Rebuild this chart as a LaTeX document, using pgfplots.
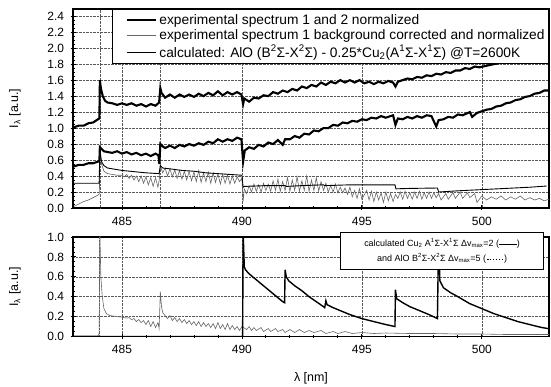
\documentclass[border=0pt]{standalone}
\usepackage{pgfplots}
\pgfplotsset{compat=1.18}
\usepackage{fontspec}
\setmainfont{Liberation Sans}
\newcommand{\dashsample}{\makebox[2em]{\leaders\hbox to 0.33em{\hss\rule[0.3ex]{0.2em}{0.45pt}\hss}\hfill}}
\begin{document}
\begin{tikzpicture}
\useasboundingbox (0bp,0bp) rectangle (551bp,387bp);
\pgfplotsset{
  common/.style={
    scale only axis, width=476bp,
    xmin=482.96, xmax=502.8,
    xtick={485,490,495,500},
    minor x tick num=4,
    minor y tick num=3,
    tick align=center,
    major tick length=5bp, minor tick length=3bp,
    xtick pos=bottom, ytick pos=left,
    grid=major,
    major grid style={densely dotted, black!65, line width=0.5bp},
    axis line style={line width=1.1bp},
    every tick/.style={black, line width=0.8bp},
    /pgf/number format/assume math mode=true,
    ticklabel style={font=\fontsize{12}{14}\selectfont},
    yticklabel style={/pgf/number format/fixed, /pgf/number format/fixed zerofill, /pgf/number format/precision=1, xshift=-3bp},
    xticklabel style={yshift=-3bp},
    every axis y label/.style={at={(axis description cs:0,0.5)}, xshift=-58bp, rotate=90, anchor=center, font=\fontsize{12.5}{14}\selectfont},
    extra x tick labels={},
    extra x tick style={major tick length=0pt, grid=major},
  }
}
% ---------------- top panel ----------------
\begin{axis}[common, name=top,
  at={(73bp,179bp)}, anchor=south west, height=199bp,
  ymin=0, ymax=2.49,
  ytick={0,0.2,...,2.4},
  extra x ticks={484.1,486.6},
  ylabel={I\textsubscript{λ} [a.u.]},
  legend style={at={(1,1)}, anchor=north east, draw=black, line width=0.8bp, fill=white,
    font=\fontsize{13.8}{15}\selectfont, row sep=0pt, inner xsep=2bp, inner ysep=3bp,
    cells={anchor=west}},
  legend cell align=left,
  legend image code/.code={\path (0bp,0bp); \draw[#1] (12bp,0bp) -- (41bp,0bp);},
]
\addplot[black, line width=2.1bp] coordinates {
(483.0,1.01) (483.2,1.03) (483.4,1.03) (483.6,1.06) (483.8,1.07) (484.0,1.11) (484.06,1.12) (484.08,1.60)
(484.12,1.50) (484.2,1.40) (484.3,1.34) (484.4,1.32) (484.6,1.31) (484.8,1.29) (485.0,1.31) (485.2,1.29)
(485.4,1.31) (485.6,1.28) (485.8,1.30) (486.0,1.27) (486.2,1.30) (486.4,1.28) (486.55,1.32) (486.6,1.50)
(486.65,1.44) (486.8,1.38) (487.0,1.42) (487.2,1.38) (487.4,1.42) (487.6,1.39) (487.8,1.42) (488.0,1.39)
(488.2,1.43) (488.4,1.40) (488.6,1.44) (488.8,1.41) (489.0,1.46) (489.2,1.41) (489.4,1.45) (489.6,1.42)
(489.8,1.45) (489.98,1.42) (490.05,1.30) (490.1,1.37) (490.3,1.33) (490.5,1.38) (490.7,1.37) (490.9,1.41)
(491.1,1.40) (491.3,1.45) (491.5,1.43) (491.7,1.47) (491.9,1.45) (492.1,1.49) (492.3,1.47) (492.5,1.52)
(492.7,1.50) (492.9,1.54) (493.1,1.52) (493.3,1.57) (493.5,1.54) (493.7,1.58) (493.9,1.56) (494.1,1.60)
(494.3,1.57) (494.5,1.60) (494.7,1.57) (494.9,1.60) (495.1,1.56) (495.3,1.58) (495.5,1.55) (495.7,1.58)
(495.9,1.56) (496.1,1.59) (496.3,1.57) (496.4,1.52) (496.5,1.58) (496.7,1.60) (496.9,1.62) (497.1,1.61)
(497.3,1.64) (497.5,1.63) (497.7,1.66) (497.9,1.65) (498.1,1.68) (498.3,1.67) (498.5,1.70) (498.7,1.69)
(498.9,1.72) (499.1,1.72) (499.3,1.75) (499.5,1.74) (499.7,1.77) (499.9,1.76) (500.5,1.80) (501.5,1.86)
(503.0,1.95)};
\addlegendentry{experimental spectrum 1 and 2 normalized}
\addplot[black, line width=2.1bp, forget plot] coordinates {
(483.0,0.52) (483.2,0.54) (483.4,0.54) (483.6,0.56) (483.8,0.56) (484.0,0.58) (484.06,0.59) (484.08,0.76)
(484.15,0.74) (484.25,0.71) (484.4,0.70) (484.6,0.69) (484.8,0.71) (485.0,0.68) (485.2,0.70) (485.4,0.67)
(485.6,0.69) (485.8,0.66) (486.0,0.68) (486.2,0.65) (486.4,0.68) (486.52,0.66) (486.56,0.55) (486.6,0.80)
(486.7,0.77) (486.8,0.75) (487.0,0.78) (487.2,0.75) (487.4,0.79) (487.6,0.77) (487.8,0.80) (488.0,0.78)
(488.2,0.81) (488.4,0.79) (488.6,0.83) (488.8,0.81) (489.0,0.86) (489.2,0.83) (489.4,0.86) (489.6,0.84)
(489.8,0.88) (489.98,0.86) (490.05,0.58) (490.12,0.72) (490.3,0.76) (490.5,0.74) (490.7,0.79) (490.9,0.77)
(491.1,0.82) (491.3,0.80) (491.5,0.85) (491.7,0.79) (491.8,0.86) (492.0,0.86) (492.2,0.90) (492.4,0.88)
(492.6,0.93) (492.8,0.92) (493.0,0.97) (493.2,0.96) (493.4,1.00) (493.6,1.00) (493.8,1.04) (494.0,1.03)
(494.2,1.07) (494.4,1.06) (494.6,1.09) (494.8,1.08) (495.0,1.11) (495.2,1.10) (495.4,1.13) (495.6,1.12)
(495.8,1.15) (496.0,1.13) (496.3,1.16) (496.4,1.04) (496.5,1.12) (496.7,1.11) (496.9,1.14) (497.1,1.12)
(497.3,1.15) (497.5,1.13) (497.7,1.16) (497.9,1.15) (498.1,1.02) (498.2,1.10) (498.4,1.11) (498.6,1.14)
(498.8,1.13) (499.0,1.17) (499.2,1.16) (499.5,1.20) (499.6,1.14) (499.8,1.19) (500.0,1.21) (500.2,1.23)
(500.4,1.24) (500.6,1.27) (500.8,1.28) (501.0,1.31) (501.2,1.32) (501.4,1.35) (501.6,1.36) (501.8,1.39)
(502.0,1.40) (502.2,1.43) (502.4,1.44) (502.6,1.47) (502.8,1.47) (503.0,1.49)};
\addplot[black!60, line width=0.6bp] coordinates {
(483.0,0.02) (483.2,0.05) (483.4,0.08) (483.6,0.10) (483.8,0.13) (484.0,0.16) (484.06,0.18) (484.08,0.70)
(484.15,0.55) (484.25,0.46) (484.4,0.43) (484.6,0.42) (484.8,0.41) (485.0,0.41) (485.1,0.39) (485.2,0.42)
(485.3,0.37) (485.4,0.41) (485.5,0.35) (485.6,0.40) (485.7,0.33) (485.8,0.40) (485.9,0.31) (486.0,0.39)
(486.1,0.29) (486.2,0.38) (486.3,0.27) (486.4,0.38) (486.5,0.26) (486.56,0.36) (486.6,0.53) (486.7,0.44)
(486.8,0.50) (486.9,0.40) (487.0,0.49) (487.1,0.39) (487.2,0.48) (487.3,0.37) (487.4,0.47) (487.5,0.36)
(487.6,0.46) (487.7,0.35) (487.8,0.46) (487.9,0.34) (488.0,0.45) (488.1,0.33) (488.2,0.47) (488.3,0.32)
(488.4,0.44) (488.5,0.33) (488.6,0.45) (488.7,0.31) (488.8,0.44) (488.9,0.32) (489.0,0.43) (489.1,0.30)
(489.2,0.42) (489.3,0.31) (489.4,0.41) (489.5,0.30) (489.6,0.40) (489.7,0.31) (489.8,0.39) (489.9,0.33)
(490.0,0.37) (490.05,0.08) (490.1,0.24) (490.2,0.18) (490.3,0.28) (490.4,0.20) (490.5,0.30) (490.6,0.21)
(490.7,0.29) (490.8,0.20) (490.9,0.31) (491.0,0.22) (491.1,0.30) (491.2,0.21) (491.3,0.34) (491.4,0.22)
(491.5,0.36) (491.6,0.21) (491.7,0.33) (491.8,0.22) (491.9,0.38) (492.0,0.21) (492.1,0.35) (492.2,0.22)
(492.3,0.39) (492.4,0.21) (492.5,0.34) (492.6,0.22) (492.7,0.40) (492.8,0.21) (492.9,0.35) (493.0,0.22)
(493.1,0.38) (493.2,0.21) (493.3,0.33) (493.4,0.22) (493.5,0.31) (493.6,0.20) (493.7,0.28) (493.8,0.20)
(493.9,0.30) (494.0,0.19) (494.1,0.26) (494.2,0.19) (494.3,0.25) (494.4,0.17) (494.5,0.26) (494.6,0.14)
(494.7,0.22) (494.8,0.12) (494.9,0.24) (495.0,0.11) (495.2,0.22) (495.3,0.10) (495.4,0.21) (495.5,0.08)
(495.6,0.20) (495.7,0.10) (495.8,0.19) (495.9,0.07) (496.0,0.20) (496.1,0.09) (496.2,0.18) (496.3,0.08)
(496.4,0.17) (496.5,0.12) (496.6,0.20) (496.7,0.11) (496.8,0.21) (496.9,0.12) (497.0,0.19) (497.1,0.11)
(497.2,0.20) (497.3,0.12) (497.4,0.21) (497.5,0.11) (497.6,0.19) (497.7,0.12) (497.8,0.20) (497.9,0.12)
(498.0,0.19) (498.1,0.13) (498.2,0.18) (498.3,0.10) (498.5,0.18) (498.6,0.11) (498.8,0.19) (498.9,0.12)
(499.1,0.20) (499.2,0.12) (499.4,0.19) (499.5,0.13) (499.7,0.18) (499.8,0.07) (500.0,0.15) (500.2,0.10)
(500.4,0.14) (500.6,0.11) (500.8,0.15) (501.0,0.10) (501.2,0.14) (501.4,0.11) (501.6,0.15) (501.8,0.10)
(502.0,0.13) (502.2,0.10) (502.4,0.12) (502.6,0.09) (502.8,0.11) (503.0,0.09)};
\addlegendentry{experimental spectrum 1 background corrected and normalized}
\addplot[black, line width=0.9bp] coordinates {
(483.0,0.31) (484.05,0.31) (484.08,0.72) (484.15,0.58) (484.25,0.53) (484.4,0.50) (484.6,0.49) (485.0,0.47)
(485.5,0.455) (486.0,0.44) (486.55,0.43) (486.6,0.53) (486.7,0.50) (487.0,0.49) (487.5,0.47) (488.0,0.46)
(488.5,0.44) (489.0,0.43) (489.5,0.42) (490.0,0.41) (490.05,0.26) (490.1,0.27) (491.0,0.28) (491.8,0.28)
(491.85,0.27) (492.5,0.28) (493.4,0.29) (493.45,0.28) (494.5,0.29) (495.5,0.29) (496.38,0.29) (496.42,0.24)
(497.0,0.245) (498.15,0.25) (498.2,0.20) (499.0,0.215) (500.0,0.23) (501.0,0.245) (502.0,0.26) (502.7,0.275)};
\addlegendentry{calculated: AlO (B\textsuperscript{2}Σ-X\textsuperscript{2}Σ) - 0.25*Cu\textsubscript{2}(A\textsuperscript{1}Σ-X\textsuperscript{1}Σ) @T=2600K}
\end{axis}
% ---------------- bottom panel ----------------
\begin{axis}[common, name=bot,
  at={(73bp,50.5bp)}, anchor=south west, height=99.5bp,
  ymin=0, ymax=1.0,
  ytick={0,0.2,...,1.0},
  extra x ticks={484.05},
  ylabel={I\textsubscript{λ} [a.u.]},
  xlabel={λ [nm]},
  every axis x label/.style={at={(axis description cs:0.5,0)}, yshift=-41.5bp, anchor=center, font=\fontsize{12.5}{14}\selectfont},
]
\addplot[black!60, line width=0.6bp] coordinates {
(483.0,0.005) (484.0,0.005) (484.05,0.03) (484.08,1.05) (484.12,0.60) (484.18,0.40) (484.25,0.28) (484.35,0.23)
(484.5,0.21) (484.8,0.20) (485.0,0.195) (485.2,0.185) (485.3,0.19) (485.4,0.17) (485.5,0.18) (485.6,0.15)
(485.7,0.17) (485.8,0.14) (485.9,0.16) (486.0,0.12) (486.1,0.16) (486.2,0.10) (486.3,0.15) (486.4,0.09)
(486.5,0.14) (486.55,0.08) (486.6,0.45) (486.65,0.30) (486.7,0.24) (486.8,0.21) (486.9,0.18) (487.0,0.21)
(487.1,0.16) (487.2,0.19) (487.3,0.15) (487.4,0.18) (487.5,0.14) (487.6,0.17) (487.7,0.13) (487.8,0.16)
(487.9,0.12) (488.0,0.15) (488.1,0.11) (488.2,0.15) (488.3,0.10) (488.4,0.14) (488.5,0.10) (488.6,0.13)
(488.7,0.09) (488.8,0.13) (488.9,0.08) (489.0,0.14) (489.1,0.08) (489.2,0.12) (489.3,0.07) (489.4,0.13)
(489.5,0.07) (489.6,0.11) (489.7,0.07) (489.8,0.10) (489.9,0.06) (490.0,0.10) (490.2,0.07) (490.3,0.10)
(490.4,0.06) (490.5,0.09) (490.6,0.06) (490.8,0.09) (490.9,0.05) (491.1,0.08) (491.2,0.05) (491.4,0.08)
(491.5,0.05) (491.7,0.07) (491.8,0.04) (492.0,0.07) (492.2,0.04) (492.4,0.07) (492.6,0.04) (492.8,0.06)
(493.0,0.04) (493.3,0.06) (493.5,0.03) (493.8,0.05) (494.0,0.03) (494.3,0.05) (494.6,0.03) (495.0,0.04)
(495.5,0.03) (496.0,0.035) (497.0,0.03) (498.0,0.03) (499.0,0.025) (500.0,0.025) (501.0,0.02) (502.0,0.02)
(503.0,0.02)};
\addplot[black, line width=1.4bp] coordinates {
(483.0,0.0) (490.03,0.0) (490.05,1.05) (490.1,0.70) (490.15,0.67) (490.3,0.63) (490.6,0.57) (491.0,0.49)
(491.3,0.43) (491.7,0.35) (491.78,0.34) (491.8,0.67) (491.85,0.60) (491.95,0.56) (492.2,0.51) (492.5,0.46)
(492.8,0.40) (493.1,0.35) (493.4,0.30) (493.45,0.29) (493.5,0.36) (493.55,0.32) (493.8,0.29) (494.1,0.26)
(494.5,0.22) (495.0,0.18) (495.5,0.15) (496.0,0.12) (496.38,0.10) (496.4,0.47) (496.45,0.38) (496.7,0.34)
(497.0,0.30) (497.4,0.26) (497.8,0.22) (498.15,0.18) (498.2,1.05) (498.25,0.56) (498.4,0.49) (498.7,0.44)
(499.0,0.40) (499.5,0.33) (500.0,0.28) (500.5,0.23) (501.0,0.19) (501.5,0.15) (502.0,0.12) (502.5,0.09)
(503.0,0.07)};
\end{axis}
\node[draw=black, line width=0.8bp, fill=white, anchor=north east, minimum width=203bp, minimum height=37bp,
  align=center, inner sep=2bp, font=\fontsize{9}{15}\selectfont]
  at ([xshift=-5bp,yshift=5.3bp]bot.north east)
  {calculated Cu\textsubscript{2} A\textsuperscript{1}Σ-X\textsuperscript{1}Σ Δv\textsubscript{max}=2 (\rule[0.3ex]{2em}{0.8pt})\\
   and AlO B\textsuperscript{2}Σ-X\textsuperscript{2}Σ Δv\textsubscript{max}=5 (\dashsample)};
\end{tikzpicture}
\end{document}
